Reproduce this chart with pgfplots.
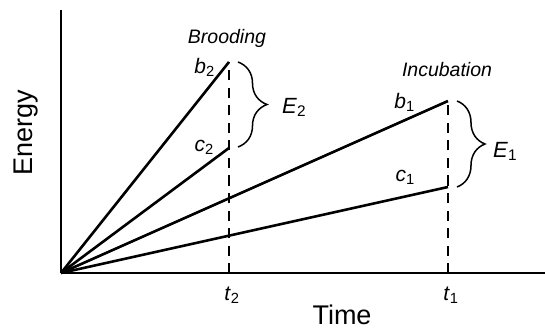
\documentclass[border=0pt]{standalone}
\usepackage{pgfplots}
\pgfplotsset{compat=1.18}
\usepackage{fontspec}
\setmainfont{Liberation Sans}
\usetikzlibrary{decorations.pathreplacing}
\newcommand{\lab}[2]{\textit{#1}\textsubscript{#2}}
\begin{document}
\begin{tikzpicture}
\begin{axis}[
  x=1bp, y=1bp,
  xmin=0, xmax=484, ymin=0, ymax=263,
  axis x line=bottom, axis y line=left,
  axis line style={-, line width=1.4bp},
  clip=false,
  ytick=\empty,
  xtick={168,387},
  xticklabels={\lab{t}{2},\lab{t}{1}},
  major tick length=0pt,
  xticklabel style={font=\fontsize{21bp}{24bp}\selectfont, anchor=base, yshift=-27bp, xshift=3bp},
  xlabel={Time},
  ylabel={Energy},
  xlabel style={font=\fontsize{27bp}{30bp}\selectfont, at={(axis description cs:0.5806,-0.1977)}, anchor=base},
  ylabel style={font=\fontsize{27bp}{30bp}\selectfont, at={(axis description cs:-0.0599,0.5323)}, anchor=base},
]
\addplot[black, line width=2.6bp] coordinates {(0,0) (168,211)};
\addplot[black, line width=2.6bp] coordinates {(0,0) (168,125)};
\addplot[black, line width=2.6bp] coordinates {(0,0) (387,172)};
\addplot[black, line width=2.6bp] coordinates {(0,0) (387,86)};
\addplot[black, line width=2.6bp, dash pattern=on 10bp off 7.5bp] coordinates {(168,0) (168,211)};
\addplot[black, line width=2.6bp, dash pattern=on 10bp off 7.5bp] coordinates {(387,0) (387,172)};
\draw[line width=1.5bp, decorate, decoration={brace, amplitude=29bp, aspect=0.5}] (axis cs:177,211) -- (axis cs:177,126);
\draw[line width=1.5bp, decorate, decoration={brace, amplitude=28bp, aspect=0.5}] (axis cs:396,172) -- (axis cs:396,86);
\node[anchor=base, font=\fontsize{19.5bp}{22bp}\selectfont\itshape] at (axis cs:166,230) {Brooding};
\node[anchor=base, font=\fontsize{19.5bp}{22bp}\selectfont\itshape] at (axis cs:386,197) {Incubation};
\node[anchor=base east, inner sep=0pt, font=\fontsize{21bp}{24bp}\selectfont] at (axis cs:154,200) {\lab{b}{2}};
\node[anchor=base east, inner sep=0pt, font=\fontsize{21bp}{24bp}\selectfont] at (axis cs:153,122) {\lab{c}{2}};
\node[anchor=base east, inner sep=0pt, font=\fontsize{21bp}{24bp}\selectfont] at (axis cs:354,165) {\lab{b}{1}};
\node[anchor=base east, inner sep=0pt, font=\fontsize{21bp}{24bp}\selectfont] at (axis cs:354,92) {\lab{c}{1}};
\node[anchor=base west, inner sep=0pt, font=\fontsize{22bp}{25bp}\selectfont] at (axis cs:221,160) {\lab{E}{2}};
\node[anchor=base west, inner sep=0pt, font=\fontsize{22bp}{25bp}\selectfont] at (axis cs:432,116) {\lab{E}{1}};
\end{axis}
\pgfresetboundingbox
\path[use as bounding box] (-61bp,-57bp) rectangle (484bp,273bp);
\end{tikzpicture}
\end{document}
